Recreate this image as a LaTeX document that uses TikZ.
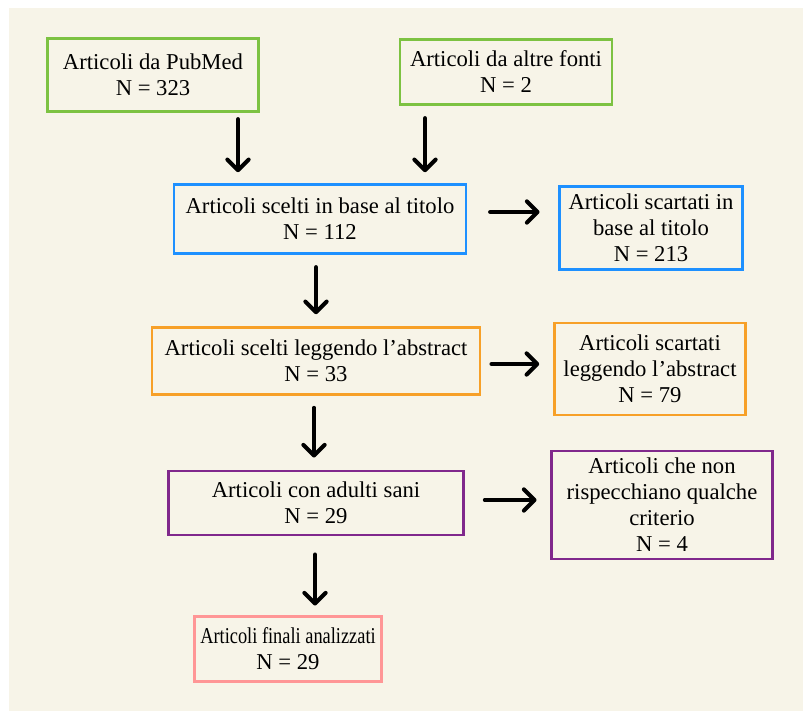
\documentclass[tikz,border=0pt]{standalone}
\usepackage{fontspec}
\setmainfont{Liberation Serif}
\usepackage{graphicx}
\usepackage{xcolor}
\definecolor{cream}{RGB}{247,244,232}
\definecolor{lgreen}{RGB}{125,194,66}
\definecolor{lblue}{RGB}{30,144,255}
\definecolor{lorange}{RGB}{247,160,40}
\definecolor{lpurple}{RGB}{128,40,140}
\definecolor{lpink}{RGB}{255,150,150}
\usetikzlibrary{positioning, calc, shapes, arrows.meta}
\tikzstyle{Box} = [
draw,
line width=2.2pt,
align=center,
inner sep=2pt,
font=\fontsize{17}{19.5}\selectfont]
\tikzstyle{ArrowBlack} = [
line width=3pt,
black,
line cap=round,
-{Straight Barb[length=8pt, width=16pt, line cap=round, line join=round]}]

\begin{document}
\begin{tikzpicture}[x=0.75pt, y=-0.75pt]
    \useasboundingbox (0,0) rectangle (803,711);
    \fill[cream] (9,8) rectangle (803,711);

    \node [Box, lgreen, text=black, minimum width=158pt, minimum height=55pt] (pubmed) at (153,75) {Articoli da PubMed\\N = 323};
    \node [Box, lgreen, text=black, minimum width=159pt, minimum height=49pt] (altre) at (506,72) {Articoli da altre fonti\\N = 2};
    \node [Box, lblue, text=black, minimum width=219pt, minimum height=52pt] (titolo) at (320,219) {Articoli scelti in base al titolo\\N = 112};
    \node [Box, lblue, text=black, minimum width=137pt, minimum height=62pt] (scartTitolo) at (651,228) {Articoli scartati in\\base al titolo\\N = 213};
    \node [Box, lorange, text=black, minimum width=246pt, minimum height=50pt] (abstract) at (316,361) {Articoli scelti leggendo l’abstract\\N = 33};
    \node [Box, lorange, text=black, minimum width=143pt, minimum height=69pt] (scartAbstract) at (650,369) {Articoli scartati\\leggendo l’abstract\\N = 79};
    \node [Box, lpurple, text=black, minimum width=221pt, minimum height=48pt] (adulti) at (316,503) {Articoli con adulti sani\\N = 29};
    \node [Box, lpurple, text=black, minimum width=166pt, minimum height=81pt] (criterio) at (662,505) {Articoli che non\\rispecchiano qualche\\criterio\\N = 4};
    \node [Box, lpink, text=black, minimum width=140pt, minimum height=49pt] (finali) at (288,649) {\scalebox{0.81}[1]{Articoli finali analizzati}\\N = 29};

    \draw[ArrowBlack, shorten <=4.5pt, shorten >=8pt] (pubmed.south -| 238,0) -- (titolo.north -| 238,0);
    \draw[ArrowBlack, shorten <=9pt, shorten >=8pt] (altre.south -| 425,0) -- (titolo.north -| 425,0);
    \draw[ArrowBlack, shorten <=17pt, shorten >=14pt] (titolo.east |- 0,212) -- (scartTitolo.west |- 0,212);
    \draw[ArrowBlack, shorten <=9pt, shorten >=9pt] (titolo.south -| 316,0) -- (abstract.north -| 316,0);
    \draw[ArrowBlack, shorten <=7.5pt, shorten >=10.5pt] (abstract.east |- 0,364) -- (scartAbstract.west |- 0,364);
    \draw[ArrowBlack, shorten <=9pt, shorten >=9pt] (abstract.south -| 314,0) -- (adulti.north -| 314,0);
    \draw[ArrowBlack, shorten <=15pt, shorten >=10pt] (adulti.east |- 0,500) -- (criterio.west |- 0,500);
    \draw[ArrowBlack, shorten <=13.5pt, shorten >=7pt] (adulti.south -| 315,0) -- (finali.north -| 315,0);
\end{tikzpicture}
\end{document}
